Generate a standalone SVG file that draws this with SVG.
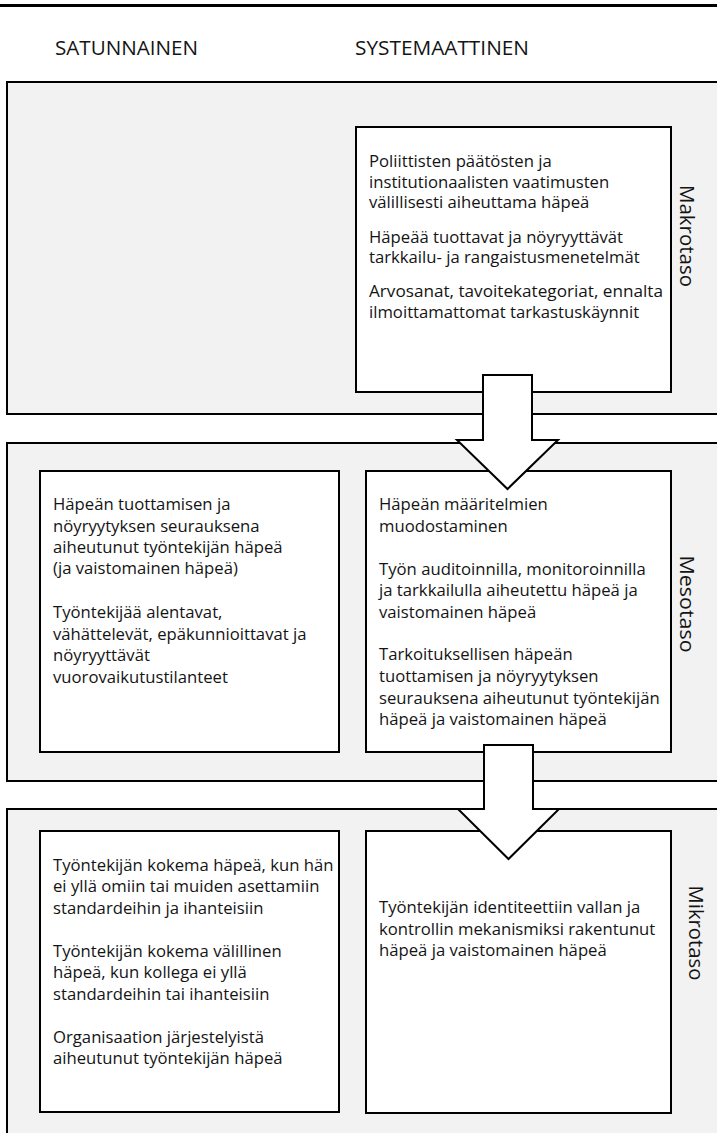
<svg xmlns="http://www.w3.org/2000/svg" width="717" height="1133" viewBox="0 0 717 1133">
<style>
.band{fill:#f2f2f2;stroke:#000;stroke-width:2}
.box{fill:#fff;stroke:#000;stroke-width:2}
.arrow{fill:#fff;stroke:#000;stroke-width:2;stroke-linejoin:miter}
text{font-family:"Open Sans","Liberation Sans",sans-serif;fill:#141414}
.t{font-size:16.7px}
.h{font-size:20.8px}
.lbl{font-size:19.5px;text-anchor:middle}
</style>
<rect width="717" height="1133" fill="#fff"/>
<line x1="0" y1="5.5" x2="717" y2="5.5" stroke="#000" stroke-width="3"/>
<g id="headers">
<text class="h" x="55" y="55" textLength="143" lengthAdjust="spacingAndGlyphs">SATUNNAINEN</text>
<text class="h" x="355" y="55" textLength="174" lengthAdjust="spacingAndGlyphs">SYSTEMAATTINEN</text>
</g>
<g id="band-makro">
<rect class="band" x="7" y="82" width="720" height="332"/>
<text class="lbl" transform="translate(680,236) rotate(90)" textLength="102" lengthAdjust="spacingAndGlyphs">Makrotaso</text>
</g>
<g id="band-meso">
<rect class="band" x="7" y="443" width="720" height="338"/>
<text class="lbl" transform="translate(680,604) rotate(90)" textLength="97" lengthAdjust="spacingAndGlyphs">Mesotaso</text>
</g>
<g id="band-mikro">
<rect class="band" x="7" y="809" width="720" height="340"/>
<text class="lbl" transform="translate(689,933) rotate(90)" textLength="95" lengthAdjust="spacingAndGlyphs">Mikrotaso</text>
</g>
<g id="makro-systemaattinen">
<rect class="box" x="356" y="127" width="315" height="265"/>
<text class="t"><tspan x="369" y="167">Poliittisten päätösten ja</tspan><tspan x="369" y="187.5">institutionaalisten vaatimusten</tspan><tspan x="369" y="208">välillisesti aiheuttama häpeä</tspan><tspan x="369" y="242.5">Häpeää tuottavat ja nöyryyttävät</tspan><tspan x="369" y="263">tarkkailu- ja rangaistusmenetelmät</tspan></text>
<text class="t" x="369" y="297" textLength="294" lengthAdjust="spacingAndGlyphs">Arvosanat, tavoitekategoriat, ennalta</text>
<text class="t" x="369" y="317.5">ilmoittamattomat tarkastuskäynnit</text>
</g>
<g id="meso-satunnainen">
<rect class="box" x="40" y="471" width="299" height="281"/>
<text class="t"><tspan x="53" y="510">Häpeän tuottamisen ja</tspan><tspan x="53" y="531.5">nöyryytyksen seurauksena</tspan><tspan x="53" y="553">aiheutunut työntekijän häpeä</tspan><tspan x="53" y="574">(ja vaistomainen häpeä)</tspan><tspan x="53" y="618">Työntekijää alentavat,</tspan><tspan x="53" y="639.5">vähättelevät, epäkunnioittavat ja</tspan><tspan x="53" y="661">nöyryyttävät</tspan><tspan x="53" y="682.5">vuorovaikutustilanteet</tspan></text>
</g>
<g id="meso-systemaattinen">
<rect class="box" x="366" y="471" width="305" height="281"/>
<text class="t"><tspan x="379" y="510">Häpeän määritelmien</tspan><tspan x="379" y="531.5">muodostaminen</tspan><tspan x="379" y="575">Työn auditoinnilla, monitoroinnilla</tspan><tspan x="379" y="596">ja tarkkailulla aiheutettu häpeä ja</tspan><tspan x="379" y="617.5">vaistomainen häpeä</tspan><tspan x="379" y="660">Tarkoituksellisen häpeän</tspan><tspan x="379" y="682">tuottamisen ja nöyryytyksen</tspan><tspan x="379" y="703.5">seurauksena aiheutunut työntekijän</tspan><tspan x="379" y="725">häpeä ja vaistomainen häpeä</tspan></text>
</g>
<g id="mikro-satunnainen">
<rect class="box" x="40" y="831" width="299" height="281"/>
<text class="t"><tspan x="53" y="870.5">Työntekijän kokema häpeä, kun hän</tspan><tspan x="53" y="892">ei yllä omiin tai muiden asettamiin</tspan><tspan x="53" y="913.5">standardeihin ja ihanteisiin</tspan><tspan x="53" y="956.5">Työntekijän kokema välillinen</tspan><tspan x="53" y="978">häpeä, kun kollega ei yllä</tspan><tspan x="53" y="999.5">standardeihin tai ihanteisiin</tspan><tspan x="53" y="1042.5">Organisaation järjestelyistä</tspan><tspan x="53" y="1064">aiheutunut työntekijän häpeä</tspan></text>
</g>
<g id="mikro-systemaattinen">
<rect class="box" x="366" y="831" width="305" height="282"/>
<text class="t"><tspan x="379" y="913">Työntekijän identiteettiin vallan ja</tspan><tspan x="379" y="934.5">kontrollin mekanismiksi rakentunut</tspan><tspan x="379" y="956">häpeä ja vaistomainen häpeä</tspan></text>
</g>
<g id="connectors">
<polygon class="arrow" points="483,375 532,375 532,440 558,440 507.5,489 457,440 483,440"/>
<polygon class="arrow" points="484,745 533,745 533,809 559,809 508.5,859 458,809 484,809"/>
</g>
</svg>
